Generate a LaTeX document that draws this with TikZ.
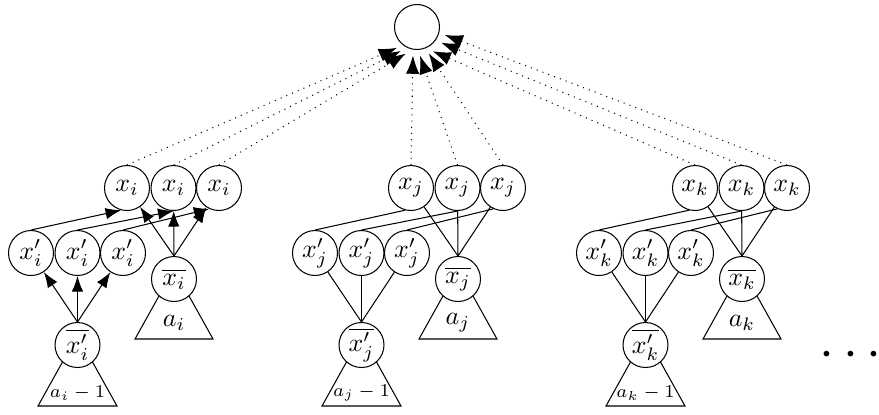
\documentclass[tikz,border=0pt]{standalone}
\usepackage{amsmath}
\usepackage{amssymb}
\usepackage{tikz}
\usetikzlibrary{arrows.meta}

\tikzset{var/.style={circle,draw,fill=white,inner sep=0pt,minimum size=17.4pt},
  tip/.style={-{Latex[length=6pt,width=4.4pt]}},
  bigtip/.style={-{Latex[length=7pt,width=5.2pt]}}}

\begin{document}
\begin{tikzpicture}[x=0.0136cm,y=-0.0136cm]
\useasboundingbox (0,0) rectangle (879,414);

% subtrees
\draw (174,269) -- (135,339) -- (213,339) -- cycle;
\draw (77.5,335) -- (38,406) -- (117,406) -- cycle;
\draw (458,269) -- (419,339) -- (497,339) -- cycle;
\draw (361.5,335) -- (322,406) -- (401,406) -- cycle;
\draw (742,269) -- (703,339) -- (781,339) -- cycle;
\draw (645.5,335) -- (606,406) -- (685,406) -- cycle;

\node[var,outer sep=2.5pt] (root) at (417,27) {};

% group i
\node[var] (xi1) at (127,188) {$x_i$};
\node[var] (xi2) at (173.5,188) {$x_i$};
\node[var] (xi3) at (219,188) {$x_i$};
\node[var] (xpi1) at (31,253) {$x'_i$};
\node[var] (xpi2) at (77.5,253) {$x'_i$};
\node[var] (xpi3) at (123,253) {$x'_i$};
\node[var] (xbi) at (174,279) {$\overline{x_i}$};
\node[var] (xpbi) at (77.5,345) {$\overline{x'_i}$};
\node (ai) at (174,323) {$a_i$};
\node[font=\scriptsize] (ami) at (77.5,393) {$a_i-1$};

\draw[tip] (xpi1.north) -- (xi1.255);
\draw[tip] (xpi2.north) -- (xi2.270);
\draw[tip] (xpi3.north) -- (xi3.245);
\draw[tip] (xbi.north) -- (xi1);
\draw[tip] (xbi.north) -- (xi2);
\draw[tip] (xbi.north) -- (xi3);
\draw[tip] (xpbi.north) -- (xpi1);
\draw[tip] (xpbi.north) -- (xpi2);
\draw[tip] (xpbi.north) -- (xpi3);

% group j
\node[var] (xj1) at (411,188) {$x_j$};
\node[var] (xj2) at (457.5,188) {$x_j$};
\node[var] (xj3) at (503,188) {$x_j$};
\node[var] (xpj1) at (315,253) {$x'_j$};
\node[var] (xpj2) at (361.5,253) {$x'_j$};
\node[var] (xpj3) at (407,253) {$x'_j$};
\node[var] (xbj) at (458,279) {$\overline{x_j}$};
\node[var] (xpbj) at (361.5,345) {$\overline{x'_j}$};
\node (aj) at (458,323) {$a_j$};
\node[font=\scriptsize] (amj) at (361.5,393) {$a_j-1$};

\draw (xpj1.north) -- (xj1.255);
\draw (xpj2.north) -- (xj2.270);
\draw (xpj3.north) -- (xj3.245);
\draw (xbj.north) -- (xj1);
\draw (xbj.north) -- (xj2);
\draw (xbj.north) -- (xj3);
\draw (xpbj.north) -- (xpj1);
\draw (xpbj.north) -- (xpj2);
\draw (xpbj.north) -- (xpj3);

% group k
\node[var] (xk1) at (695,188) {$x_k$};
\node[var] (xk2) at (741.5,188) {$x_k$};
\node[var] (xk3) at (787,188) {$x_k$};
\node[var] (xpk1) at (599,253) {$x'_k$};
\node[var] (xpk2) at (645.5,253) {$x'_k$};
\node[var] (xpk3) at (691,253) {$x'_k$};
\node[var] (xbk) at (742,279) {$\overline{x_k}$};
\node[var] (xpbk) at (645.5,345) {$\overline{x'_k}$};
\node (ak) at (742,323) {$a_k$};
\node[font=\scriptsize] (amk) at (645.5,393) {$a_k-1$};

\draw (xpk1.north) -- (xk1.255);
\draw (xpk2.north) -- (xk2.270);
\draw (xpk3.north) -- (xk3.245);
\draw (xbk.north) -- (xk1);
\draw (xbk.north) -- (xk2);
\draw (xbk.north) -- (xk3);
\draw (xpbk.north) -- (xpk1);
\draw (xpbk.north) -- (xpk2);
\draw (xpbk.north) -- (xpk3);

% to the root
\draw[dotted,bigtip] (xi1.north) -- (root.226);
\draw[dotted,bigtip] (xi2.north) -- (root.236);
\draw[dotted,bigtip] (xi3.north) -- (root.247);
\draw[dotted,bigtip] (xj1.north) -- (root.262);
\draw[dotted,bigtip] (xj2.north) -- (root.276);
\draw[dotted,bigtip] (xj3.north) -- (root.294);
\draw[dotted,bigtip] (xk1.north) -- (root.303);
\draw[dotted,bigtip] (xk2.north) -- (root.327);
\draw[dotted,bigtip] (xk3.north) -- (root.344);

\node[font=\huge] (dots) at (855,356) {$\cdots$};
\end{tikzpicture}
\end{document}
